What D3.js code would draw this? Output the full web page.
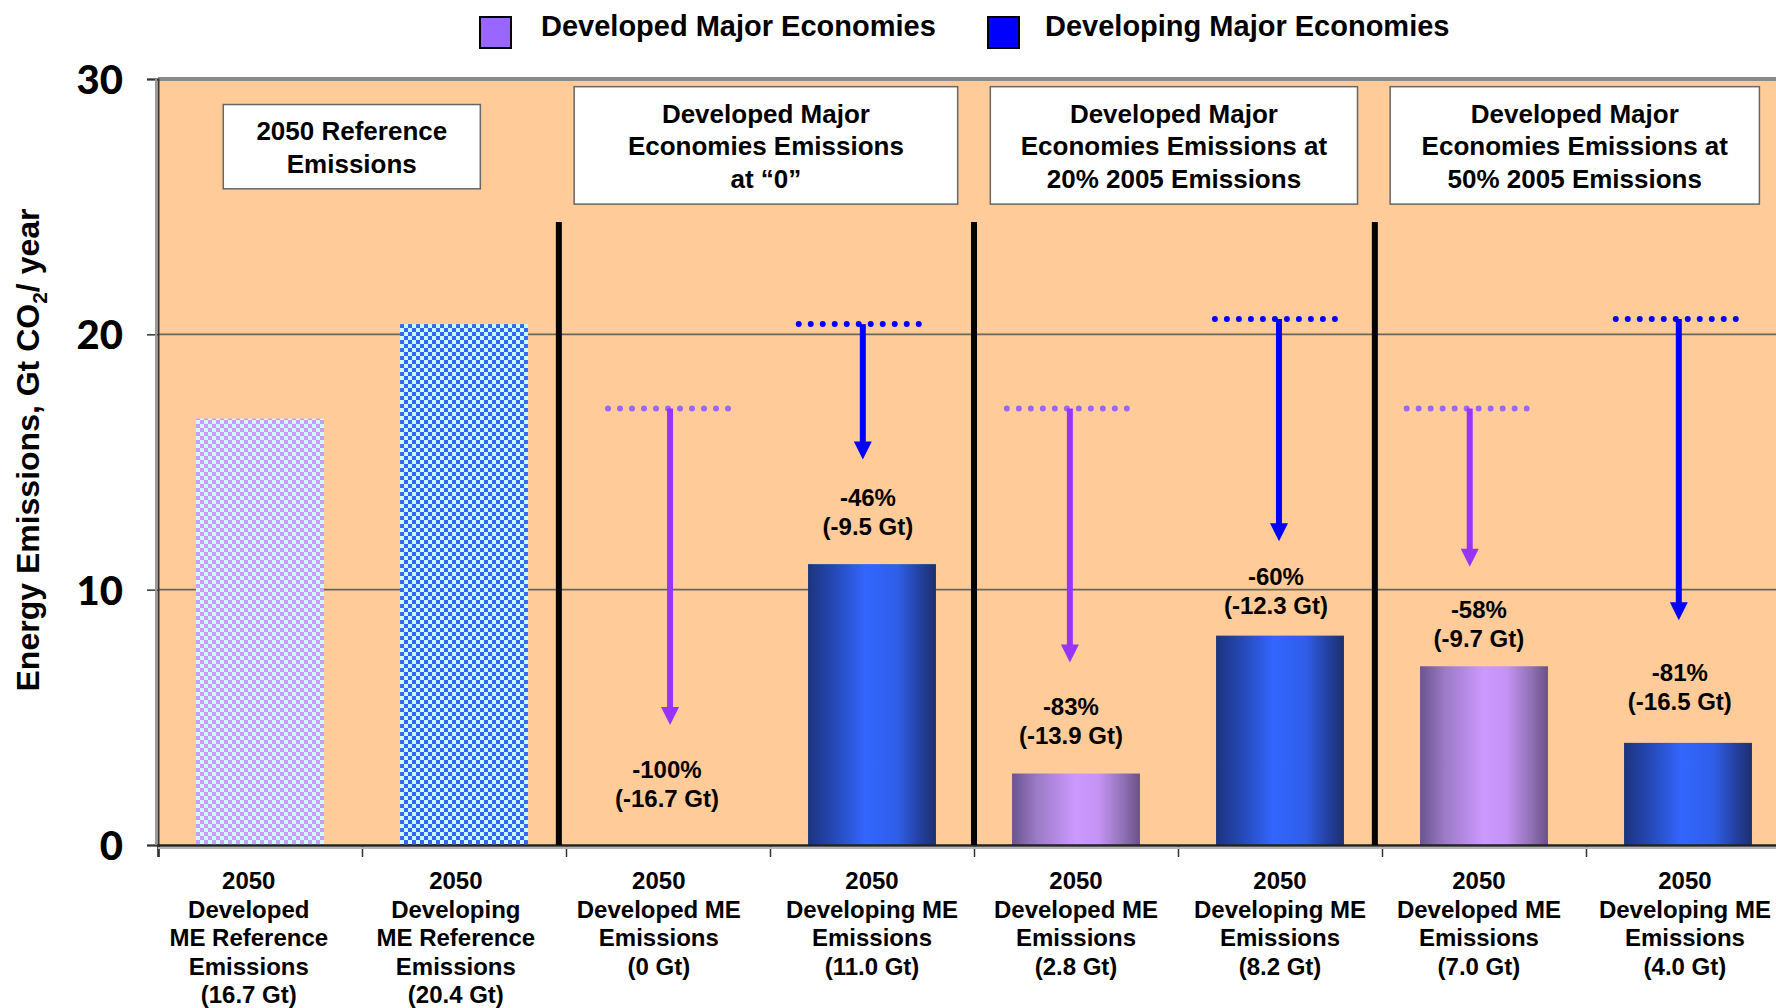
<!DOCTYPE html>
<html><head><meta charset="utf-8">
<script src="https://cdn.jsdelivr.net/npm/d3@7"></script>
<style>
html,body{margin:0;padding:0;background:#fff;}
svg{display:block;font-family:"Liberation Sans",Arial,sans-serif;font-weight:bold;}
</style></head>
<body>
<svg id="chart" width="1776" height="1008"></svg>
<script>
// ---------------- data ----------------
const categoryLabels = [
  ["2050","Developed","ME Reference","Emissions","(16.7 Gt)"],
  ["2050","Developing","ME Reference","Emissions","(20.4 Gt)"],
  ["2050","Developed ME","Emissions","(0 Gt)"],
  ["2050","Developing ME","Emissions","(11.0 Gt)"],
  ["2050","Developed ME","Emissions","(2.8 Gt)"],
  ["2050","Developing ME","Emissions","(8.2 Gt)"],
  ["2050","Developed ME","Emissions","(7.0 Gt)"],
  ["2050","Developing ME","Emissions","(4.0 Gt)"]
];
const emissions = [16.7, 20.4, 0, 11.0, 2.8, 8.2, 7.0, 4.0];
const groupType = ["developed","developing","developed","developing","developed","developing","developed","developing"];
const isReference = [true, true, false, false, false, false, false, false];
const yTicks = [0, 10, 20, 30];
const legendLabels = ["Developed Major Economies", "Developing Major Economies"];

// reductions from reference (scenario categories 2..7)
const reductionCats = [2, 3, 4, 5, 6, 7];
const referenceLevel = [17.1, 20.4, 17.1, 20.6, 17.1, 20.6];
const arrowTip = [4.7, 15.1, 7.15, 11.9, 10.9, 8.8];
const reductionPct = ["-100%", "-46%", "-83%", "-60%", "-58%", "-81%"];
const reductionGt = ["(-16.7 Gt)", "(-9.5 Gt)", "(-13.9 Gt)", "(-12.3 Gt)", "(-9.7 Gt)", "(-16.5 Gt)"];
const reductionLabelLevel = [2.94, 13.6, 5.44, 10.5, 9.24, 6.74];
// annotation anchors along the category axis (category units)
const dotLinePos = [2.5, 3.435, 4.455, 5.475, 6.415, 7.44];
const arrowPos = [2.51, 3.455, 4.47, 5.495, 6.43, 7.455];
const reductionLabelPos = [2.495, 3.48, 4.475, 5.48, 6.475, 7.46];
const categoryLabelPos = [0.445, 1.46, 2.455, 3.5, 4.5, 5.5, 6.475, 7.485];

// scenario header boxes
const boxTexts = [
  ["2050 Reference","Emissions"],
  ["Developed Major","Economies Emissions","at \u201C0\u201D"],
  ["Developed Major","Economies Emissions at","20% 2005 Emissions"],
  ["Developed Major","Economies Emissions at","50% 2005 Emissions"]
];
const boxSpan = [[0.32,1.58,29.0,25.7],[2.04,3.92,29.7,25.1],[4.08,5.88,29.7,25.1],[6.04,7.85,29.7,25.1]];
const separatorPos = [1.965, 4.0, 5.965];
const separatorTop = 24.4;

// ---------------- layout ----------------
const svg = d3.select("#chart");
const plotLeft = 158, plotTop = 79, plotBottom = 845, bandW = 204;
const plotRight = plotLeft + bandW * categoryLabels.length;

const x = d3.scaleLinear().domain([0, categoryLabels.length]).range([plotLeft, plotRight]);
const y = d3.scaleLinear().domain([0, 30]).range([plotBottom, plotTop]);
const barW = bandW * 0.627;

const colors = {
  developed: {arrow:"#9933ff", dot:"#9966ff", legend:"#9966ff"},
  developing:{arrow:"#0000ff", dot:"#0000ff", legend:"#0000ff"}
};

// defs: gradients + patterns
const defs = svg.append("defs");
function grad(id, stops){
  const g = defs.append("linearGradient").attr("id", id).attr("x1","0%").attr("x2","100%").attr("y1","0%").attr("y2","0%");
  stops.forEach(s => g.append("stop").attr("offset", s[0]).attr("stop-color", s[1]));
}
grad("gradDeveloping", [["0%","#1c347f"],["18%","#2446b0"],["45%","#3366ff"],["70%","#2f5ee8"],["88%","#23409e"],["100%","#1c3070"]]);
grad("gradDeveloped", [["0%","#6a548f"],["20%","#9c7cc8"],["50%","#cc99ff"],["68%","#c493f4"],["88%","#8d6fb2"],["100%","#6a5088"]]);
function checker(id, c1, c2){
  const p = defs.append("pattern").attr("id", id).attr("patternUnits","userSpaceOnUse").attr("width",8).attr("height",8);
  p.append("rect").attr("width",8).attr("height",8).attr("fill", c1);
  p.append("rect").attr("width",4).attr("height",4).attr("fill", c2);
  p.append("rect").attr("x",4).attr("y",4).attr("width",4).attr("height",4).attr("fill", c2);
}
checker("patDeveloped", "#cc99ff", "#ccffff");
checker("patDeveloping", "#3366ff", "#ccffff");

// plot background
svg.append("rect").attr("x", plotLeft).attr("y", plotTop).attr("width", plotRight - plotLeft).attr("height", plotBottom - plotTop).attr("fill", "#ffcc99");

// gridlines
svg.append("g").selectAll("line").data(yTicks.filter(t => t > 0 && t < 30)).join("line")
  .attr("x1", plotLeft).attr("x2", plotRight).attr("y1", d => y(d)).attr("y2", d => y(d))
  .attr("stroke", "#6e6358").attr("stroke-width", 1.6);
// top border
svg.append("line").attr("x1", plotLeft).attr("x2", plotRight).attr("y1", y(30)).attr("y2", y(30)).attr("stroke", "#8a8a8a").attr("stroke-width", 4);

// y axis
const yAxis = svg.append("g").attr("transform", `translate(${plotLeft},0)`)
  .call(d3.axisLeft(y).tickValues(yTicks).tickSize(11).tickFormat(d3.format("d")));
yAxis.select(".domain").attr("stroke", "#333").attr("stroke-width", 2);
yAxis.selectAll(".tick line").attr("stroke", "#333").attr("stroke-width", 1.5);
yAxis.selectAll(".tick text").attr("x", -35).attr("font-family", "Lato, 'Open Sans', sans-serif").attr("font-weight", 900)
  .attr("font-size", 40).attr("fill", "#000").attr("dy", "0.36em");
svg.append("line").attr("x1", plotLeft - 2).attr("x2", plotLeft - 2).attr("y1", plotTop).attr("y2", plotBottom).attr("stroke", "#999").attr("stroke-width", 2);

// bars
const bars = svg.append("g");
emissions.forEach((v, i) => {
  const fill = isReference[i]
    ? (groupType[i] === "developed" ? "url(#patDeveloped)" : "url(#patDeveloping)")
    : (groupType[i] === "developed" ? "url(#gradDeveloped)" : "url(#gradDeveloping)");
  if (v > 0) {
    bars.append("rect").attr("x", x(i) + (bandW - barW) / 2).attr("width", barW)
      .attr("y", y(v)).attr("height", y(0) - y(v)).attr("fill", fill);
  }
});

// x axis
const xAxis = svg.append("g").attr("transform", `translate(0,${plotBottom})`)
  .call(d3.axisBottom(x).tickValues(d3.range(0, categoryLabels.length + 1)).tickSize(12).tickFormat(""));
xAxis.select(".domain").attr("stroke", "#222").attr("stroke-width", 2.5);
xAxis.selectAll(".tick line").attr("stroke", "#333").attr("stroke-width", 1.5);
svg.append("line").attr("x1", plotLeft).attr("x2", plotRight).attr("y1", plotBottom + 3).attr("y2", plotBottom + 3).attr("stroke", "#b5b5b5").attr("stroke-width", 2);

// category labels
const catG = svg.append("g").attr("font-size", 24).attr("text-anchor", "middle").attr("fill", "#000");
categoryLabels.forEach((lines, i) => {
  const cx = x(categoryLabelPos[i]);
  const t = catG.append("text").attr("x", cx).attr("y", 889);
  lines.forEach((ln, j) => t.append("tspan").attr("x", cx).attr("dy", j === 0 ? 0 : 28.5).text(ln));
});

// separators
svg.append("g").selectAll("line").data(separatorPos).join("line")
  .attr("x1", d => x(d)).attr("x2", d => x(d)).attr("y1", y(separatorTop)).attr("y2", y(0))
  .attr("stroke", "#000").attr("stroke-width", 6);

// header boxes
boxTexts.forEach((lines, i) => {
  const [c0, c1, v0, v1] = boxSpan[i];
  const bx = x(c0), bw = x(c1) - x(c0), by = y(v0), bh = y(v1) - y(v0);
  svg.append("rect").attr("x", bx).attr("y", by).attr("width", bw).attr("height", bh)
    .attr("fill", "#fff").attr("stroke", "#666").attr("stroke-width", 1.5);
  const lh = 32.5;
  const startY = by + bh / 2 - (lines.length - 1) * lh / 2 + 10;
  const t = svg.append("text").attr("text-anchor", "middle").attr("font-size", 26).attr("fill", "#000");
  lines.forEach((ln, j) => t.append("tspan").attr("x", bx + bw / 2).attr("y", startY + j * lh).text(ln));
});

// reference dotted lines, arrows and labels
reductionCats.forEach((c, k) => {
  const kind = groupType[c];
  const dx = x(dotLinePos[k]), ax = x(arrowPos[k]), lx = x(reductionLabelPos[k]);
  const y0 = y(referenceLevel[k]), yTip = y(arrowTip[k]);
  svg.append("line").attr("x1", dx - 60).attr("x2", dx + 61).attr("y1", y0).attr("y2", y0)
    .attr("stroke", colors[kind].dot).attr("stroke-width", 6).attr("stroke-linecap", "round").attr("stroke-dasharray", "0 12");
  svg.append("line").attr("x1", ax).attr("x2", ax).attr("y1", y0).attr("y2", yTip - 16)
    .attr("stroke", colors[kind].arrow).attr("stroke-width", 6);
  svg.append("path").attr("d", `M${ax - 9},${yTip - 18} L${ax + 9},${yTip - 18} L${ax},${yTip} Z`).attr("fill", colors[kind].arrow);
  const ly = y(reductionLabelLevel[k]);
  svg.append("text").attr("x", lx).attr("y", ly + 8.5).attr("text-anchor", "middle").attr("font-size", 24).text(reductionPct[k]);
  svg.append("text").attr("x", lx).attr("y", ly + 8.5 + 29).attr("text-anchor", "middle").attr("font-size", 24).text(reductionGt[k]);
});

// y title
const yt = svg.append("text").attr("transform", "translate(39,450) rotate(-90)").attr("text-anchor", "middle").attr("font-size", 32).attr("fill", "#000");
yt.append("tspan").text("Energy Emissions, Gt CO");
yt.append("tspan").attr("font-size", 21).attr("dy", 8).text("2");
yt.append("tspan").attr("dy", -8).text("/ year");

// legend
const legX = [480, 988];
legendLabels.forEach((lab, i) => {
  const kind = i === 0 ? "developed" : "developing";
  svg.append("rect").attr("x", legX[i]).attr("y", 17).attr("width", 31).attr("height", 31)
    .attr("fill", colors[kind].legend).attr("stroke", "#000").attr("stroke-width", 2);
  svg.append("text").attr("x", legX[i] + 61 - (i === 1 ? 4 : 0)).attr("y", 36).attr("font-size", 29).attr("fill", "#000").text(lab);
});
</script>
</body></html>
